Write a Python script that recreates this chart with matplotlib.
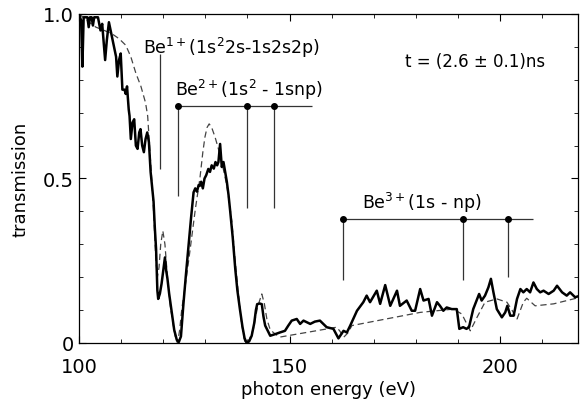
import matplotlib
matplotlib.use("Agg")
import matplotlib.pyplot as plt
from matplotlib.ticker import MultipleLocator, FixedLocator

plt.rcParams['font.family'] = ['DejaVu Sans']
plt.rcParams['mathtext.default'] = 'regular'

# measured transmission (solid)
E_meas = [100.0, 100.5, 100.8, 101.1, 102.0, 102.3, 102.6, 103.0, 103.3, 103.6, 104.5, 105.1, 105.5,
          106.2, 106.6, 107.1, 107.5, 108.3, 108.8, 109.1, 109.5, 109.9, 110.3, 110.8, 111.1, 111.4,
          111.8, 112.0, 112.3, 112.7, 113.1, 113.5, 113.9, 114.3, 114.6, 115.0, 115.4, 115.8, 116.2,
          116.6, 117.0, 117.4, 117.7, 118.0, 118.3, 118.6, 118.8, 119.2, 119.6, 120.0, 120.4, 120.7,
          121.0, 121.4, 122.0, 122.6, 123.2, 123.7, 124.2, 124.8, 125.4, 126.0, 126.6, 127.2, 127.6,
          128.0, 128.4, 128.7, 129.0, 129.4, 129.8, 130.2, 130.7, 131.1, 131.5, 132.0, 132.4, 132.8,
          133.1, 133.5, 133.9, 134.3, 134.7, 135.1, 135.5, 135.9, 136.5, 137.1, 137.6, 138.2, 138.8,
          139.3, 139.8, 140.4, 141.0, 141.6, 142.0, 142.3, 142.9, 143.4, 143.8, 144.2, 145.4, 146.6,
          147.7, 148.9, 149.7, 150.5, 151.7, 152.5, 153.3, 154.9, 156.0, 157.2, 158.8, 160.4, 161.6,
          162.8, 163.6, 164.4, 166.0, 167.5, 168.3, 169.1, 170.7, 171.5, 172.7, 173.9, 175.5, 176.2,
          177.8, 179.0, 179.8, 181.0, 181.8, 183.0, 183.8, 185.0, 185.7, 186.5, 187.3, 188.5, 189.7,
          190.3, 191.2, 192.0, 192.6, 193.6, 194.4, 195.0, 195.6, 196.4, 197.2, 197.8, 198.4, 199.2,
          200.4, 201.2, 201.7, 202.4, 203.2, 204.0, 204.8, 205.5, 206.3, 207.1, 207.9, 208.7, 209.5,
          210.3, 211.5, 212.7, 213.5, 214.7, 215.8, 216.6, 217.8, 219.0]
T_meas = [1.0, 0.98, 0.84, 0.99, 0.99, 0.96, 0.99, 0.99, 0.965, 0.99, 0.99, 0.95, 0.97,
          0.86, 0.92, 0.975, 0.95, 0.90, 0.87, 0.81, 0.86, 0.88, 0.77, 0.77, 0.757, 0.78,
          0.71, 0.69, 0.62, 0.67, 0.68, 0.60, 0.59, 0.64, 0.65, 0.60, 0.58, 0.62, 0.64,
          0.61, 0.52, 0.47, 0.43, 0.35, 0.285, 0.16, 0.134, 0.15, 0.18, 0.22, 0.26, 0.22,
          0.195, 0.15, 0.094, 0.04, 0.01, 0.003, 0.02, 0.12, 0.21, 0.296, 0.38, 0.458, 0.47,
          0.46, 0.48, 0.478, 0.49, 0.47, 0.50, 0.51, 0.529, 0.52, 0.54, 0.53, 0.55, 0.54,
          0.55, 0.605, 0.535, 0.55, 0.52, 0.49, 0.45, 0.40, 0.32, 0.225, 0.16, 0.103, 0.05,
          0.015, 0.0, 0.005, 0.022, 0.06, 0.10, 0.118, 0.12, 0.118, 0.08, 0.053, 0.022, 0.027,
          0.032, 0.037, 0.053, 0.068, 0.073, 0.058, 0.068, 0.058, 0.065, 0.068, 0.048, 0.043, 0.014,
          0.037, 0.032, 0.053, 0.098, 0.124, 0.144, 0.124, 0.159, 0.119, 0.176, 0.113, 0.159, 0.113,
          0.129, 0.098, 0.098, 0.164, 0.129, 0.134, 0.083, 0.124, 0.113, 0.098, 0.108, 0.103, 0.103,
          0.043, 0.048, 0.043, 0.048, 0.103, 0.129, 0.149, 0.129, 0.144, 0.169, 0.195, 0.154, 0.103,
          0.078, 0.093, 0.113, 0.083, 0.083, 0.134, 0.164, 0.154, 0.164, 0.154, 0.184, 0.164, 0.154,
          0.159, 0.149, 0.159, 0.174, 0.154, 0.144, 0.154, 0.139, 0.144]

# calculated transmission (dashed)
E_calc = [100.0, 101.0, 102.4, 104.0, 106.0, 107.8, 109.5, 111.1, 112.3, 113.5, 114.7, 115.8, 116.3,
          116.6, 117.0, 117.4, 117.8, 118.2, 118.6, 119.0, 119.4, 119.9, 120.4, 121.0, 121.7, 122.4,
          123.0, 123.4, 123.9, 124.4, 125.4, 126.4, 127.6, 128.7, 129.4, 129.9, 130.4, 130.9, 131.5,
          132.3, 133.1, 133.9, 134.5, 135.1, 135.7, 136.3, 137.0, 137.8, 138.6, 139.4, 140.4, 141.4,
          142.4, 143.4, 144.0, 144.6, 145.4, 146.6, 147.7, 161.2, 162.0, 162.8, 163.8, 164.8, 181.0,
          188.9, 190.9, 192.0, 192.9, 193.8, 194.5, 196.4, 199.2, 201.6, 202.8, 204.0, 205.5, 206.3,
          208.3, 212.7, 219.0]
T_calc = [1.0, 0.99, 0.975, 0.96, 0.95, 0.94, 0.925, 0.905, 0.87, 0.82, 0.78, 0.73, 0.69,
          0.63, 0.55, 0.47, 0.377, 0.26, 0.20, 0.23, 0.30, 0.341, 0.30, 0.20, 0.11, 0.053,
          0.01, 0.0, 0.04, 0.103, 0.19, 0.286, 0.405, 0.50, 0.58, 0.626, 0.655, 0.666, 0.655,
          0.626, 0.59, 0.55, 0.515, 0.478, 0.425, 0.368, 0.26, 0.155, 0.06, 0.0, 0.01, 0.043,
          0.11, 0.149, 0.12, 0.073, 0.04, 0.027, 0.018, 0.048, 0.035, 0.017, 0.03, 0.053, 0.093,
          0.103, 0.088, 0.06, 0.037, 0.06, 0.078, 0.124, 0.134, 0.124, 0.10, 0.073, 0.124, 0.136,
          0.113, 0.119, 0.139]

# line markers
be1_E = [119.2]
be1_range = (0.53, 0.878)
be2_E = [123.5, 139.9, 146.3]
be2_bottom = [0.447, 0.41, 0.41]
be2_level = 0.72
be2_end = 155.3
be3_E = [162.6, 191.2, 201.9]
be3_bottom = [0.19, 0.19, 0.20]
be3_level = 0.377
be3_end = 207.8

fig = plt.figure(figsize=(5.81, 4.02), dpi=100)
ax = fig.add_axes([0.136, 0.1443, 0.859, 0.8184])

ax.plot(E_calc, T_calc, color='#444444', lw=0.9, dashes=(5, 3))
ax.plot(E_meas, T_meas, color='black', lw=1.8)

lc = '#333333'
ax.vlines(be1_E, be1_range[0], be1_range[1], color=lc, lw=0.9)
ax.hlines(be2_level, be2_E[0], be2_end, color=lc, lw=0.9)
ax.vlines(be2_E, be2_bottom, be2_level, color=lc, lw=0.9)
ax.plot(be2_E, [be2_level] * len(be2_E), 'o', color='black', ms=4)
ax.hlines(be3_level, be3_E[0], be3_end, color=lc, lw=0.9)
ax.vlines(be3_E, be3_bottom, be3_level, color=lc, lw=0.9)
ax.plot(be3_E, [be3_level] * len(be3_E), 'o', color='black', ms=4)

fs = 12.5
ax.text(115.2, 0.90, 'Be$^{1+}$(1s$^2$2s-1s2s2p)', fontsize=fs, va='center', ha='left')
ax.text(122.8, 0.772, 'Be$^{2+}$(1s$^2$ - 1snp)', fontsize=fs, va='center', ha='left')
ax.text(167.1, 0.428, 'Be$^{3+}$(1s - np)', fontsize=fs, va='center', ha='left')
ax.text(177.4, 0.858, 't = (2.6 ± 0.1)ns', fontsize=12, va='center', ha='left')

ax.set_xlim(100, 218.5)
ax.set_ylim(0, 1.0)
ax.xaxis.set_major_locator(FixedLocator([100, 150, 200]))
ax.xaxis.set_minor_locator(MultipleLocator(10))
ax.yaxis.set_major_locator(FixedLocator([0, 0.5, 1.0]))
ax.yaxis.set_minor_locator(MultipleLocator(0.1))
ax.set_yticklabels(['0', '0.5', '1.0'])
ax.tick_params(which='both', direction='in', top=True, right=True, labelsize=14)
ax.tick_params(which='major', length=5)
ax.tick_params(which='minor', length=3)
ax.tick_params(axis='x', which='major', pad=10)
ax.set_xlabel('photon energy (eV)', fontsize=13, labelpad=3)
ax.set_ylabel('transmission', fontsize=13, labelpad=10)
for s in ax.spines.values():
    s.set_linewidth(0.9)

fig.savefig('out.png', dpi=100)
